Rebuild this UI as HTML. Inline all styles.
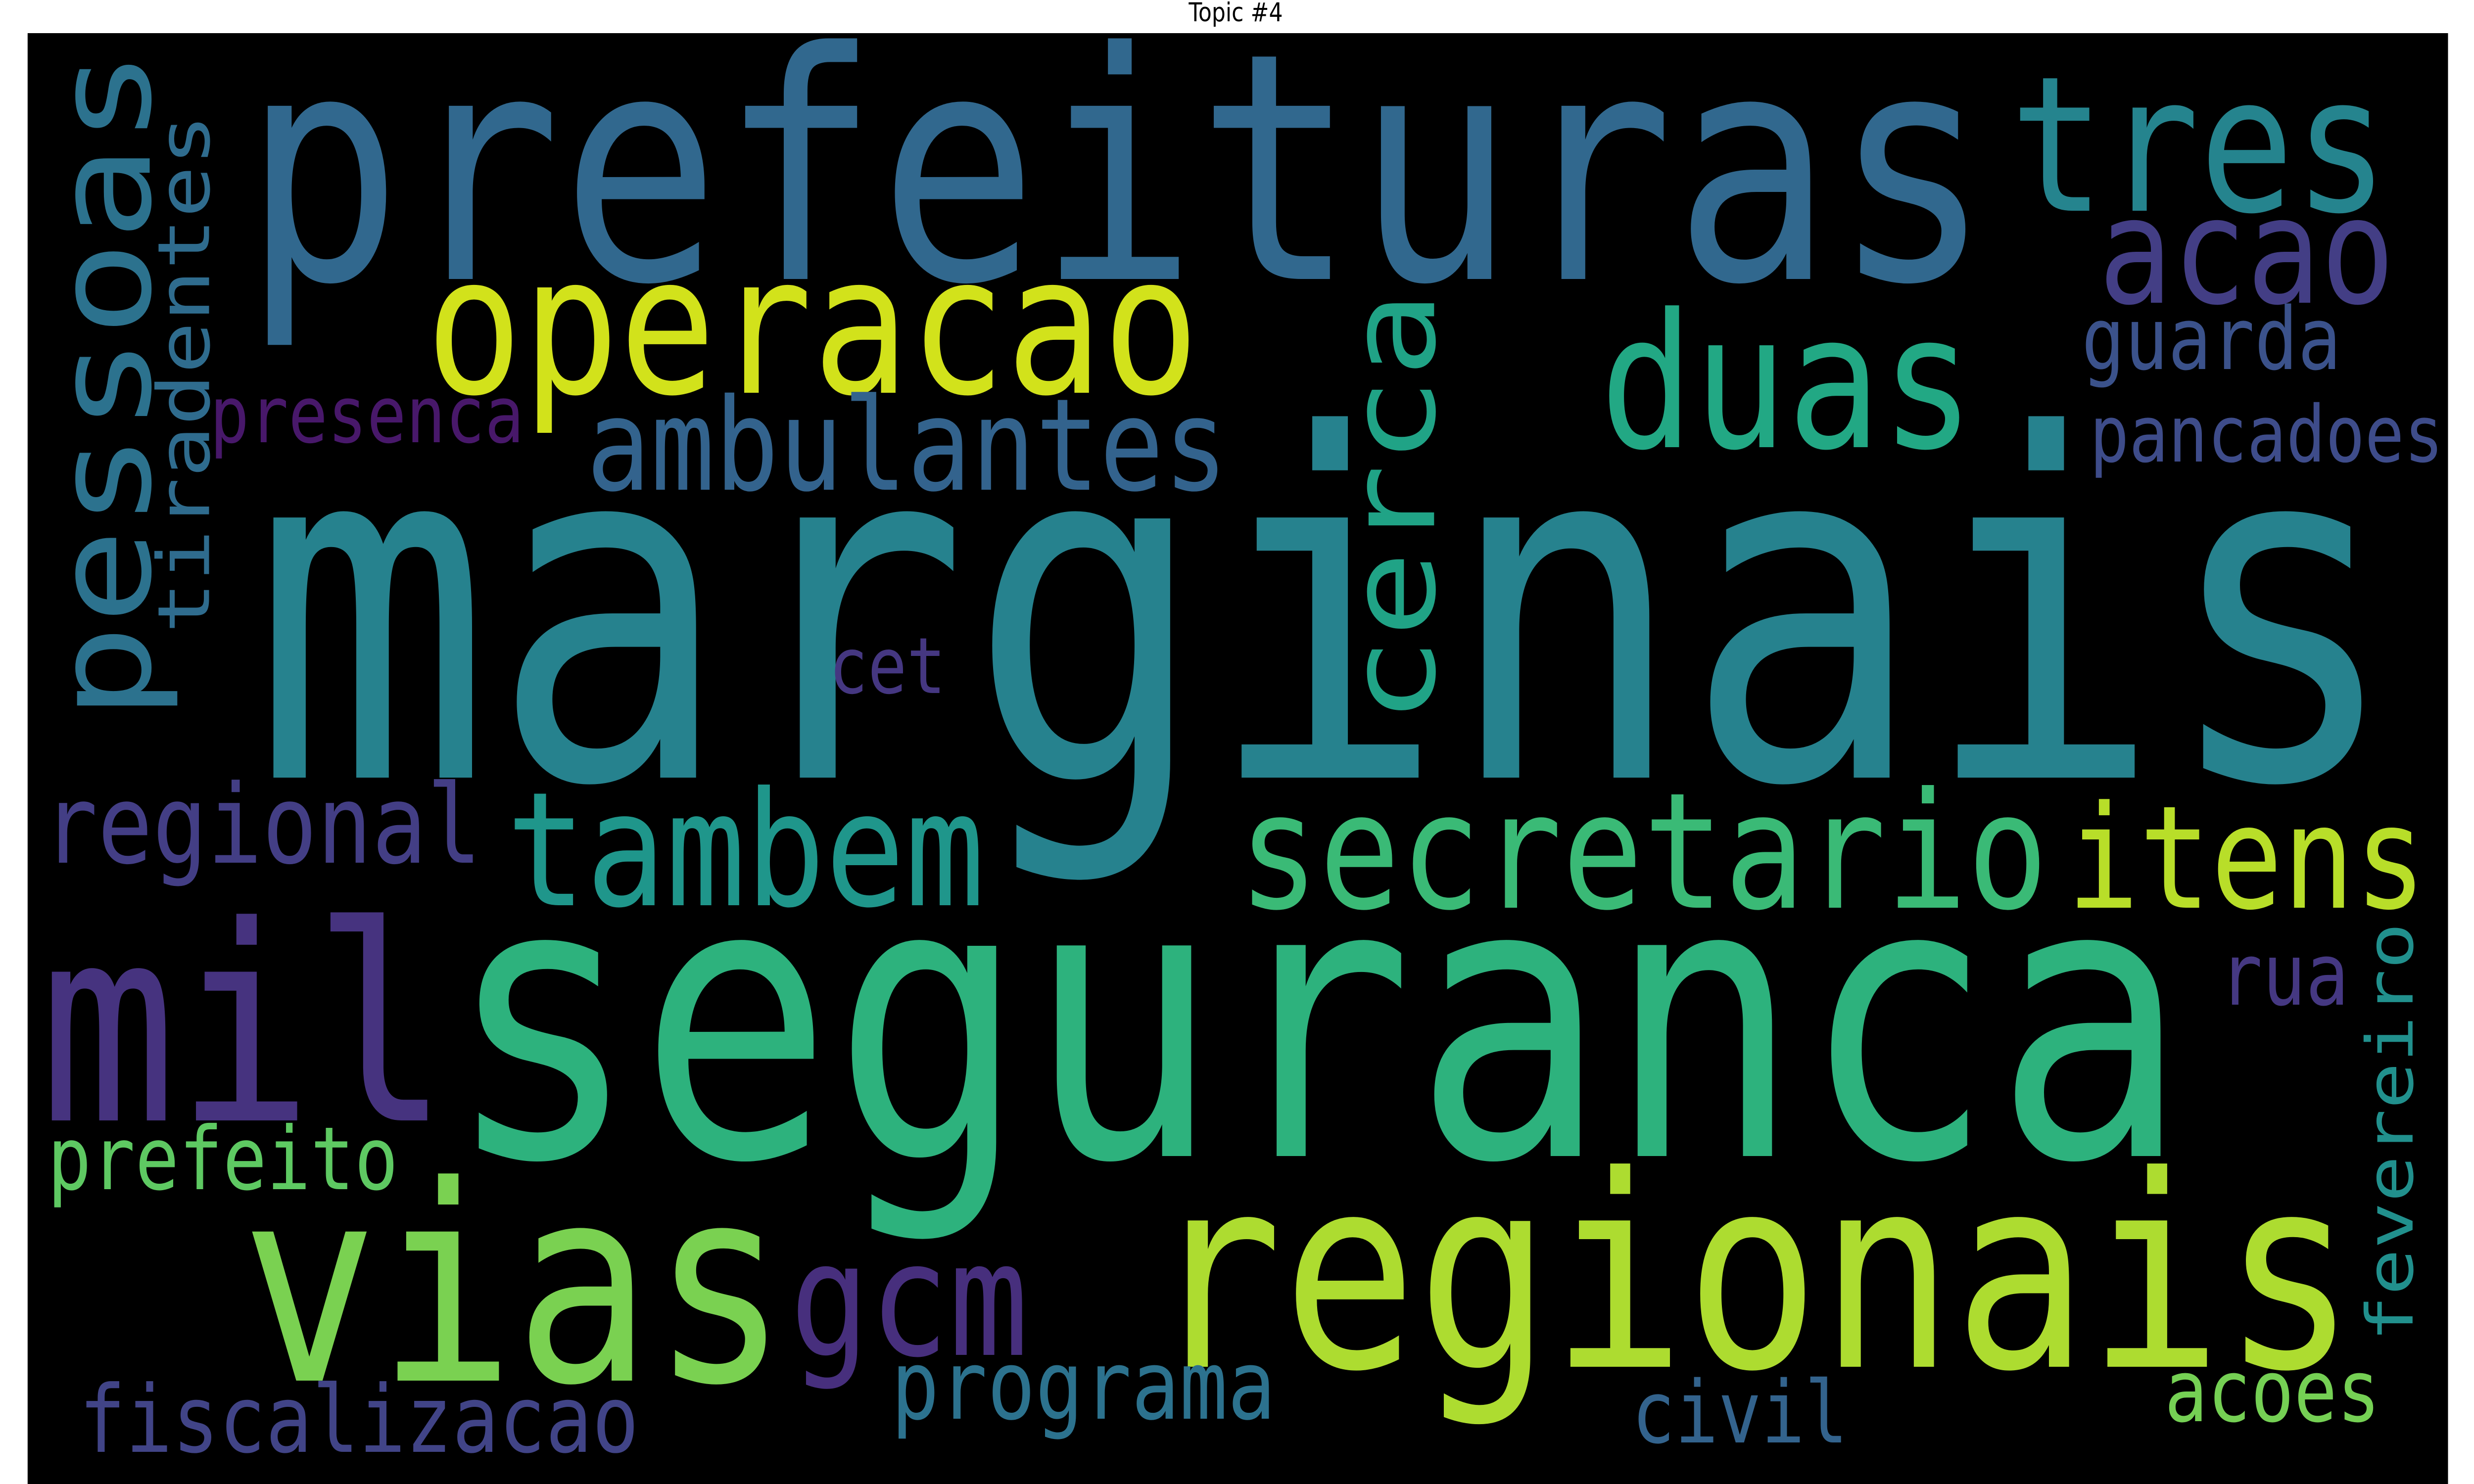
<!DOCTYPE html>
<html>
<head>
<meta charset="utf-8">
<meta name="viewport" content="width=6000, initial-scale=1">
<style>
  html, body { margin: 0; padding: 0; background: #ffffff; width: 100vw; height: 100vh; overflow: hidden; }
  svg { display: block; width: 100vw; height: 100vh; overflow: hidden; }
</style>
</head>
<body>
<svg id="chart" xmlns="http://www.w3.org/2000/svg" viewBox="0 0 6000 3000" preserveAspectRatio="none">
  <rect x="0" y="0" width="6000" height="3000" fill="#ffffff"/>
  <text x="2997" y="43" text-anchor="middle" font-family="DejaVu Sans, Liberation Sans, sans-serif" font-size="53" fill="#000000">Topic #4</text>
  <rect x="67" y="67" width="5870" height="2933" fill="#000000"/>
  <g id="words"></g>
</svg>
<script>
// Horizontal words: text, color, left glyph edge, right glyph edge, baseline
const hWords = ["prefeituras","marginais","seguranca","mil","vias","regionais","operacao","tres","acao","duas","guarda","pancadoes","ambulantes","presenca","cet","regional","tambem","secretario","itens","rua","prefeito","gcm","programa","fiscalizacao","civil","acoes"];
const hColors = ["#31688e","#26828e","#2db27d","#46337f","#7ad151","#addc30","#d2e21b","#25848e","#433e85","#22a884","#3b528b","#3e4c8a","#33638d","#48186a","#453781","#433e85","#1f968b","#3aba76","#b8de29","#453882","#5ec962","#472f7d","#2c728e","#414487","#33638d","#75d054"];
const hLeft = [622,660,1119,124,612,2812,1052,4894,5104,3899,5057,5076,1435,517,2018,115,1244,3019,5028,5391,124,1932,2171,201,3966,5258];
const hRight = [4798,5774,5267,1062,1884,5688,2889,5774,5793,4770,5669,5918,2965,1263,2286,1157,2372,4951,5870,5688,957,2478,3084,1540,4473,5764];
const hBase = [564,1572,2337,2265,2791,2763,794,426,612,904,746,933,990,894,1401,1744,1830,1835,1835,2031,2404,2739,2868,2935,2916,2873];

// Vertical words (read bottom to top): text, color, baseline x, bottom y, top y
const vWords = ["pessoas","tiradentes","cerca","fevereiro"];
const vColors = ["#2c728e","#2f6c8e","#20a386","#21908d"];
const vBaseX = [363,507,3478,5851];
const vBottom = [1440,1272,1449,2705];
const vTop = [115,239,603,1873];

const NS = "http://www.w3.org/2000/svg";
const g = document.getElementById("words");
const ADV = 0.602;

function fontFor(word, len) {
  return len / (word.length * ADV - 0.1);
}

for (let i = 0; i < hWords.length; i++) {
  const w = hWords[i];
  const len = hRight[i] - hLeft[i];
  const fs = fontFor(w, len);
  const t = document.createElementNS(NS, "text");
  t.setAttribute("x", hLeft[i] - 0.05 * fs);
  t.setAttribute("y", hBase[i]);
  t.setAttribute("font-size", fs.toFixed(1));
  t.setAttribute("font-family", "DejaVu Sans Mono, Liberation Mono, monospace");
  t.setAttribute("fill", hColors[i]);
  t.setAttribute("textLength", (w.length * ADV * fs).toFixed(1));
  t.setAttribute("lengthAdjust", "spacingAndGlyphs");
  
  
  t.textContent = w;
  g.appendChild(t);
}

for (let i = 0; i < vWords.length; i++) {
  const w = vWords[i];
  const len = vBottom[i] - vTop[i];
  const fs = fontFor(w, len);
  const t = document.createElementNS(NS, "text");
  t.setAttribute("x", -0.05 * fs);
  t.setAttribute("y", 0);
  t.setAttribute("transform", "translate(" + vBaseX[i] + "," + vBottom[i] + ") rotate(-90)");
  t.setAttribute("font-size", fs.toFixed(1));
  t.setAttribute("font-family", "DejaVu Sans Mono, Liberation Mono, monospace");
  t.setAttribute("fill", vColors[i]);
  t.setAttribute("textLength", (w.length * ADV * fs).toFixed(1));
  t.setAttribute("lengthAdjust", "spacingAndGlyphs");
  
  
  t.textContent = w;
  g.appendChild(t);
}
</script>
</body>
</html>
